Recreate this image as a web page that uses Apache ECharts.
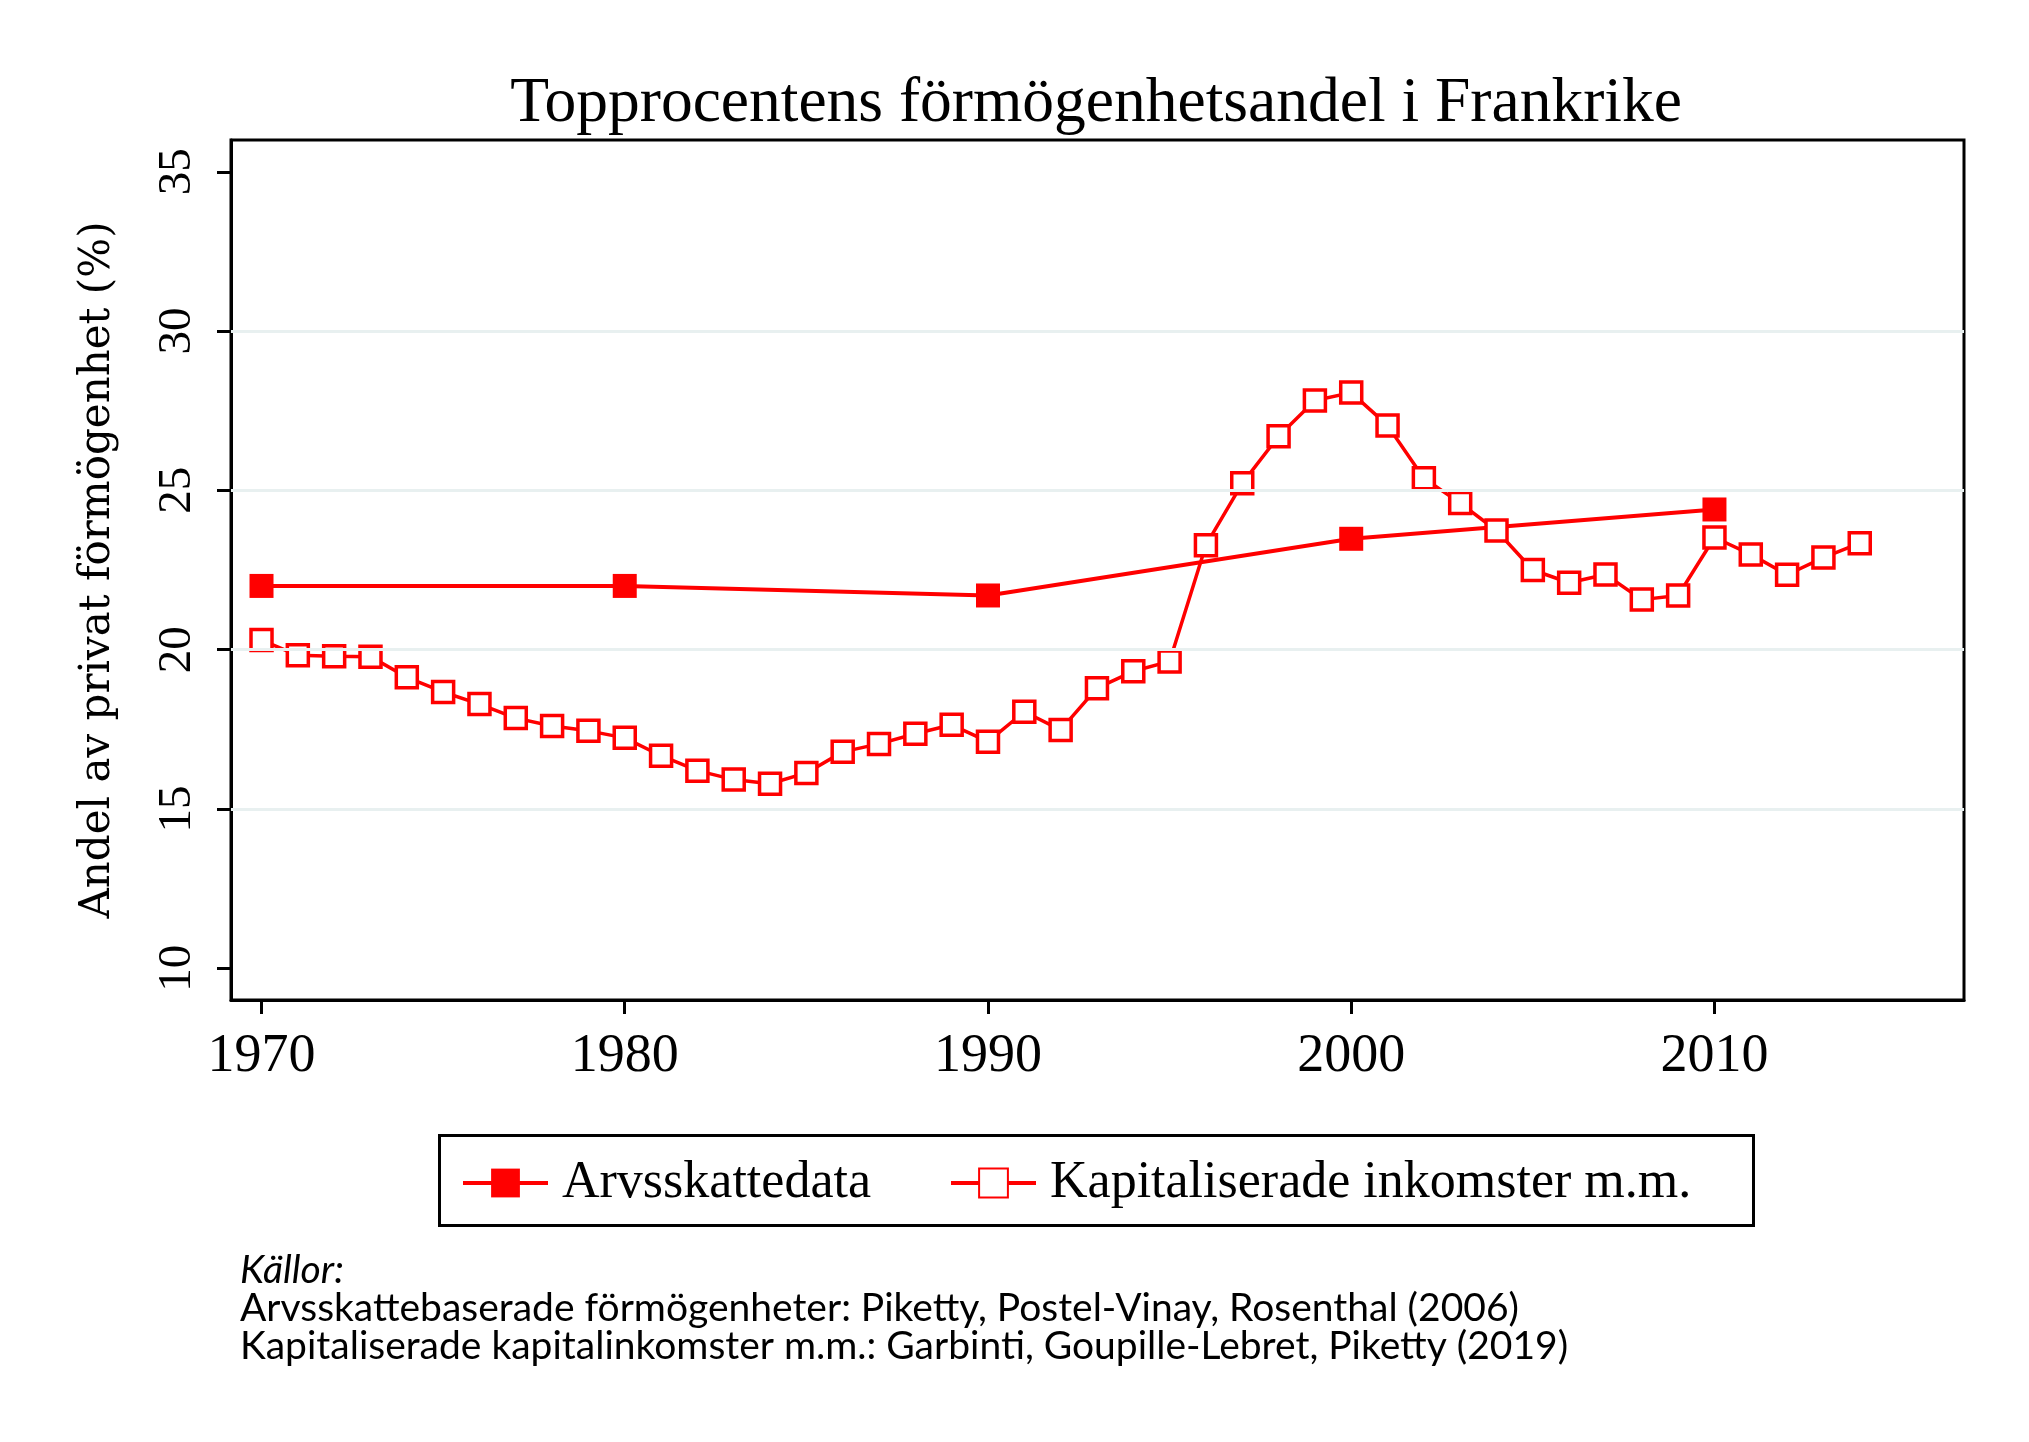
<!DOCTYPE html>
<html>
<head>
<meta charset="utf-8">
<script src="https://cdn.jsdelivr.net/npm/echarts@6/dist/echarts.min.js"></script>
<style>
html,body{margin:0;padding:0;background:#fff;}
#chart{width:2029px;height:1442px;}
</style>
</head>
<body>
<div id="chart"></div>
<script>
const titleText = 'Topprocentens förmögenhetsandel i Frankrike';
const yAxisTitle = 'Andel av privat förmögenhet (%)';
const seriesNames = ['Arvsskattedata', 'Kapitaliserade inkomster m.m.'];
const xTicks = [1970, 1980, 1990, 2000, 2010];
const yTicks = [10, 15, 20, 25, 30, 35];
const gridValues = [15, 20, 25, 30];

const arvsYears = [1970, 1980, 1990, 2000, 2010];
const arvsValues = [22.0, 22.0, 21.7, 23.48, 24.4];

const kapYears = [1970,1971,1972,1973,1974,1975,1976,1977,1978,1979,
  1980,1981,1982,1983,1984,1985,1986,1987,1988,1989,
  1990,1991,1992,1993,1994,1995,1996,1997,1998,1999,
  2000,2001,2002,2003,2004,2005,2006,2007,2008,2009,
  2010,2011,2012,2013,2014];
const kapValues = [20.3,19.82,19.79,19.78,19.13,18.67,18.29,17.85,17.6,17.45,
  17.23,16.67,16.2,15.92,15.79,16.13,16.79,17.04,17.36,17.64,
  17.11,18.05,17.48,18.79,19.32,19.63,23.28,25.22,26.7,27.82,
  28.07,27.04,25.38,24.6,23.74,22.5,22.1,22.36,21.57,21.7,
  23.52,22.99,22.35,22.89,23.34];

const sourceLines = [
  'Källor:',
  'Arvsskattebaserade förmögenheter: Piketty, Postel-Vinay, Rosenthal (2006)',
  'Kapitaliserade kapitalinkomster m.m.: Garbinti, Goupille-Lebret, Piketty (2019)'
];

const RED = '#ff0000';
const SERIF = '"Liberation Serif", serif';
const chart = echarts.init(document.getElementById('chart'), null, {renderer: 'canvas'});

const option = {
  animation: false,
  backgroundColor: '#ffffff',
  title: {
    text: titleText,
    left: 1091, textAlign: 'center',
    top: 67,
    textStyle: {fontFamily: SERIF, fontSize: 63.5, fontWeight: 'normal', color: '#000'}
  },
  grid: {
    left: 231, right: 65, top: 140, bottom: 442,
    show: true, borderColor: '#000', borderWidth: 3, backgroundColor: 'transparent'
  },
  xAxis: {
    type: 'value', min: 1969.16, max: 2016.87,
    axisLine: {show: true, lineStyle: {color: '#000', width: 3}},
    axisTick: {show: true, length: 14, lineStyle: {color: '#000', width: 3}, customValues: xTicks},
    axisLabel: {customValues: xTicks, margin: 30, fontFamily: SERIF, fontSize: 54, color: '#000',
      formatter: v => String(v)},
    splitLine: {show: false}
  },
  yAxis: {
    type: 'value', min: 9, max: 36,
    name: yAxisTitle, nameLocation: 'middle', nameRotate: 90, nameGap: 112,
    nameTextStyle: {fontFamily: '"DejaVu Serif", serif', fontSize: 42, color: '#000'},
    axisLine: {show: true, lineStyle: {color: '#000', width: 3}},
    axisTick: {show: true, length: 14, lineStyle: {color: '#000', width: 3}, customValues: yTicks},
    axisLabel: {customValues: yTicks, rotate: 90, margin: 30, fontFamily: SERIF, fontSize: 47, color: '#000'},
    splitLine: {show: false}
  },
  legend: {
    data: seriesNames,
    left: 461, top: 1157,
    itemWidth: 85, itemHeight: 36, itemGap: 78,
    padding: 0,
    lineStyle: {width: 4},
    textStyle: {fontFamily: SERIF, fontSize: 52, color: '#000', padding: [0, 0, 0, 9]}
  },
  graphic: [
    {type: 'rect', left: 438, top: 1134, z: -10, shape: {width: 1314, height: 90},
     style: {fill: '#fff', stroke: '#000', lineWidth: 3}},
    {type: 'text', left: 240, top: 1251, style: {text: sourceLines[0], font: 'italic 39px Lato', fill: '#000'}},
    {type: 'text', left: 240, top: 1289, style: {text: sourceLines[1], font: '39px Lato', fill: '#000'}},
    {type: 'text', left: 240, top: 1327, style: {text: sourceLines[2], font: '39px Lato', fill: '#000'}}
  ],
  series: [
    {
      name: '_grid', type: 'line', data: [], z: 1, silent: true,
      markLine: {
        silent: true, symbol: 'none', label: {show: false},
        lineStyle: {color: '#e8f0f0', width: 3, type: 'solid'},
        emphasis: {disabled: true},
        data: gridValues.map(v => ({yAxis: v}))
      }
    },
    {
      name: seriesNames[0], type: 'line', z: 3,
      data: arvsYears.map((y, i) => [y, arvsValues[i]]),
      symbol: 'rect', symbolSize: 24,
      lineStyle: {color: RED, width: 4},
      itemStyle: {color: RED}
    },
    {
      name: seriesNames[1], type: 'line', z: 4,
      data: kapYears.map((y, i) => [y, kapValues[i]]),
      symbol: 'rect', symbolSize: 21, showAllSymbol: true,
      lineStyle: {color: RED, width: 3.5},
      itemStyle: {color: '#ffffff', borderColor: RED, borderWidth: 3.5}
    }
  ]
};
chart.setOption(option);
</script>
</body>
</html>
